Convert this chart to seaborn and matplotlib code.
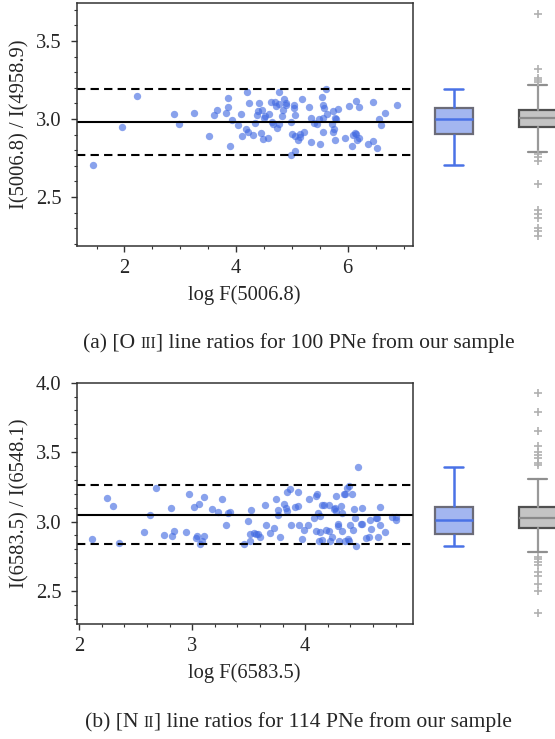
import numpy as np
import pandas as pd
import matplotlib
matplotlib.use("Agg")
import matplotlib.pyplot as plt
from matplotlib.ticker import MultipleLocator
import seaborn as sns

# ---------------- data ----------------
o3_logF = [1.43, 1.96, 2.22, 2.88, 2.98, 3.24, 3.52, 3.60, 3.65, 3.82,
           3.85, 3.86, 3.89, 3.92, 4.03, 4.09, 4.10, 4.17, 4.19, 4.22,
           4.23, 4.31, 4.34, 4.38, 4.40, 4.41, 4.44, 4.47, 4.49, 4.50,
           4.52, 4.57, 4.59, 4.63, 4.65, 4.67, 4.69, 4.71, 4.73, 4.77,
           4.77, 4.77, 4.82, 4.84, 4.86, 4.89, 4.90, 4.98, 4.99, 5.01,
           5.04, 5.04, 5.05, 5.06, 5.06, 5.10, 5.15, 5.15, 5.18, 5.22,
           5.30, 5.34, 5.34, 5.40, 5.45, 5.48, 5.51, 5.54, 5.56, 5.56,
           5.56, 5.57, 5.61, 5.62, 5.71, 5.73, 5.74, 5.76, 5.79, 5.78,
           5.78, 5.82, 5.95, 6.02, 6.08, 6.10, 6.13, 6.15, 6.15, 6.17,
           6.20, 6.21, 6.37, 6.45, 6.46, 6.52, 6.56, 6.59, 6.67, 6.88]
o3_ratio = [2.707, 2.949, 3.145, 3.032, 2.970, 3.036, 2.889, 3.024, 3.060, 3.036,
            3.077, 3.137, 2.829, 2.994, 2.959, 3.034, 2.893, 2.938, 3.171, 2.917,
            3.103, 2.897, 2.976, 3.024, 3.051, 3.100, 2.912, 3.060, 2.874, 3.006,
            3.019, 2.880, 3.034, 3.111, 2.979, 2.970, 3.111, 3.083, 2.944, 3.171,
            2.968, 3.098, 3.019, 3.058, 3.126, 3.105, 3.090, 2.981, 2.769, 2.906,
            3.092, 3.073, 2.795, 3.026, 2.891, 2.865, 2.902, 2.887, 3.126, 2.919,
            3.077, 3.006, 2.855, 2.972, 2.970, 3.002, 2.840, 3.141, 3.004, 3.092,
            2.917, 3.068, 3.194, 3.032, 2.970, 2.919, 3.051, 2.936, 3.002, 3.004,
            2.865, 3.064, 2.878, 3.081, 2.829, 2.897, 2.908, 2.906, 3.113, 2.865,
            3.075, 2.876, 2.842, 3.107, 2.859, 2.814, 3.000, 2.959, 3.036, 3.088]

n2_logF = [2.115, 2.245, 2.301, 2.349, 2.573, 2.626, 2.677, 2.747, 2.812, 2.824,
           2.836, 2.942, 2.969, 3.015, 3.034, 3.046, 3.064, 3.066, 3.084, 3.105,
           3.108, 3.173, 3.232, 3.261, 3.303, 3.318, 3.332, 3.456, 3.495, 3.510,
           3.513, 3.521, 3.548, 3.566, 3.586, 3.604, 3.648, 3.651, 3.687, 3.722,
           3.743, 3.755, 3.755, 3.773, 3.814, 3.829, 3.840, 3.843, 3.864, 3.870,
           3.914, 3.935, 3.938, 3.941, 3.976, 3.988, 4.021, 4.030, 4.077, 4.092,
           4.092, 4.109, 4.115, 4.118, 4.133, 4.148, 4.151, 4.163, 4.186, 4.210,
           4.213, 4.221, 4.239, 4.257, 4.263, 4.269, 4.269, 4.287, 4.290, 4.301,
           4.319, 4.325, 4.340, 4.349, 4.349, 4.372, 4.378, 4.387, 4.396, 4.417,
           4.423, 4.434, 4.443, 4.449, 4.470, 4.490, 4.499, 4.505, 4.535, 4.564,
           4.576, 4.579, 4.626, 4.638, 4.647, 4.662, 4.662, 4.706, 4.771, 4.801,
           4.807, 4.384, 4.133, 4.328]
n2_ratio = [2.873, 3.173, 3.113, 2.849, 2.925, 3.050, 3.245, 2.904, 3.099, 2.899,
            2.935, 2.928, 3.195, 3.106, 2.880, 2.899, 3.127, 2.839, 2.858, 3.178,
            2.897, 3.087, 3.070, 3.163, 2.974, 3.058, 3.067, 2.841, 3.002, 2.909,
            2.863, 3.082, 2.918, 2.909, 2.911, 2.889, 3.120, 2.974, 2.916, 2.954,
            3.163, 3.082, 3.046, 2.892, 3.123, 3.099, 3.075, 3.212, 3.233, 2.976,
            3.106, 3.115, 3.214, 2.974, 2.873, 2.938, 2.974, 3.166, 3.024, 3.185,
            2.935, 3.202, 3.063, 2.858, 3.038, 2.870, 3.118, 3.118, 2.940, 3.120,
            2.930, 2.863, 2.892, 3.089, 3.101, 3.183, 3.075, 2.981, 2.971, 2.863,
            3.113, 3.063, 3.200, 3.202, 2.863, 3.243, 2.877, 2.858, 2.978, 3.197,
            2.942, 3.089, 3.026, 2.822, 3.392, 2.981, 3.094, 2.981, 2.885, 2.887,
            3.012, 2.945, 3.029, 3.029, 2.889, 3.106, 2.978, 2.925, 3.036, 3.036,
            3.014, 3.257, 2.928, 2.930]

# reference lines (centre, half-width of band)
o3_ref = [2.98, 0.21]
n2_ref = [3.05, 0.213]

# comparison (literature) sample, summary statistics
o3_lit_stats = dict(med=3.004, q1=2.949, q3=3.060, whislo=2.788, whishi=3.220,
                    fliers=[3.673, 3.320, 3.265, 3.250, 3.240, 2.774, 2.754, 2.729,
                            2.581, 2.417, 2.393, 2.367, 2.303, 2.280, 2.252])
n2_lit_stats = dict(med=3.024, q1=2.950, q3=3.106, whislo=2.782, whishi=3.310,
                    fliers=[3.929, 3.790, 3.651, 3.543, 3.504, 3.480, 3.457, 3.425,
                            3.408, 2.748, 2.729, 2.707, 2.688, 2.640, 2.609, 2.551,
                            2.499, 2.344])

# ---------------- style ----------------
sns.set_style("ticks")
plt.rcParams["font.family"] = ["Liberation Serif", "DejaVu Serif"]
plt.rcParams["mathtext.fontset"] = "stix"
FS = 14.8

W, H = 555, 739
fig = plt.figure(figsize=(W / 100, H / 100), dpi=100)


def fx(px):
    return px / W


def fy(py):
    return 1 - py / H


def panel(top, bot, xdata, ydata, ref, lit, xlim, ylim, xmaj, xmin, xlabel, ylabel):
    ax = fig.add_axes([fx(77), fy(bot), fx(412.5) - fx(77), fy(top) - fy(bot)])
    df = pd.DataFrame({"x": xdata, "y": ydata})
    sns.scatterplot(data=df, x="x", y="y", ax=ax, color="royalblue", alpha=0.62,
                    s=28, linewidth=0)
    c, d = ref
    ax.axhline(c, color="black", lw=1.5)
    ax.axhline(c + d, color="black", lw=1.5, ls=(0, (4, 2.5)))
    ax.axhline(c - d, color="black", lw=1.5, ls=(0, (4, 2.5)))
    ax.set_xlim(*xlim)
    ax.set_ylim(*ylim)
    ax.xaxis.set_major_locator(MultipleLocator(xmaj))
    ax.xaxis.set_minor_locator(MultipleLocator(xmin))
    ax.yaxis.set_major_locator(MultipleLocator(0.5))
    ax.yaxis.set_minor_locator(MultipleLocator(0.1))
    ax.tick_params(which="major", length=4, width=1, labelsize=FS, color="#333333")
    ax.tick_params(axis="x", which="major", pad=5.5)
    ax.tick_params(axis="y", which="major", pad=7)
    ax.tick_params(which="minor", length=2.2, width=0.8, color="#333333")
    for s in ax.spines.values():
        s.set_linewidth(1.1)
        s.set_color("#333333")
    ax.set_xlabel(xlabel, fontsize=FS, labelpad=5)
    ax.set_ylabel(ylabel, fontsize=FS, labelpad=5)

    # box-plot axes (extends past the right edge of the figure)
    axb = fig.add_axes([fx(411.8), fy(bot), fx(168), fy(top) - fy(bot)])
    sns.boxplot(y=ydata, ax=axb, width=0.45, color="#a3b6f0", saturation=1,
                linewidth=1.6, showfliers=True,
                boxprops=dict(edgecolor="#6b6b78"),
                medianprops=dict(color="#4a72e6", linewidth=1.8),
                whiskerprops=dict(color="#4a72e6", linewidth=1.8),
                capprops=dict(color="#4a72e6", linewidth=1.8),
                flierprops=dict(marker="+", markeredgecolor="#aaaaaa"))
    axb.bxp([lit], positions=[1], widths=0.45, patch_artist=True, manage_ticks=False,
            boxprops=dict(facecolor="#c4c4c4", edgecolor="#505050", linewidth=1.6),
            medianprops=dict(color="#8a8a8a", linewidth=1.6),
            whiskerprops=dict(color="#999999", linewidth=1.6),
            capprops=dict(color="#8f8f8f", linewidth=1.6),
            flierprops=dict(marker="+", markeredgecolor="#b0b0b0", markersize=6,
                            markeredgewidth=1.2, linestyle="none"))
    axb.set_xlim(-0.5, 1.5)
    axb.set_ylim(*ylim)
    axb.axis("off")
    return ax


panel(3, 246, o3_logF, o3_ratio, o3_ref, o3_lit_stats, (1.15, 7.16), (2.186, 3.744),
      2, 0.5, "log F(5006.8)", "I(5006.8) / I(4958.9)")
panel(382.7, 624.3, n2_logF, n2_ratio, n2_ref, n2_lit_stats, (1.98, 4.95), (2.26, 4.0),
      1, 0.2, "log F(6583.5)", "I(6583.5) / I(6548.1)")

# captions with small-caps ionisation stage
renderer = fig.canvas.get_renderer()


def caption(parts, cx, baseline):
    texts = []
    for s, size in parts:
        t = fig.text(0, fy(baseline), s, fontsize=size, ha="left", va="baseline")
        texts.append(t)
    widths = [t.get_window_extent(renderer).width for t in texts]
    x = cx - sum(widths) / 2
    for t, w in zip(texts, widths):
        t.set_x(fx(x))
        x += w


CAP = 15.6
caption([("(a) [O ", CAP), ("III", CAP * 0.72), ("] line ratios for 100 PNe from our sample", CAP)],
        298.5, 348)
caption([("(b) [N ", CAP), ("II", CAP * 0.72), ("] line ratios for 114 PNe from our sample", CAP)],
        298.5, 727)

fig.savefig("out.png", dpi=100)
